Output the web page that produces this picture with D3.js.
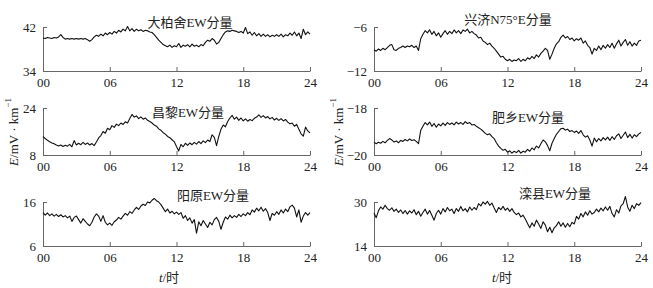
<!DOCTYPE html>
<html>
<head>
<meta charset="utf-8">
<script src="https://cdn.jsdelivr.net/npm/d3@7"></script>
<style>
  body { margin: 0; background: #fff; }
  text { font-family: "Liberation Serif", "Noto Sans CJK SC", serif; fill: #222; }
</style>
</head>
<body>
<svg id="chart" width="653" height="288"></svg>
<script>
// hourly x ticks shared by every panel
const hourTicks = [0, 6, 12, 18, 24];
const hourLabels = ['00', '06', '12', '18', '24'];

const dabaishe = [40.0, 39.9, 40.1, 40.0, 39.9, 40.1, 40.0, 40.2,
  40.6, 40.1, 39.8, 39.9, 39.8, 39.9, 39.8, 39.9, 39.8, 39.9, 39.8, 39.9, 39.7, 39.4, 39.7,
  40.2, 40.5, 40.3, 40.7, 40.4, 40.9, 40.6, 41.0, 40.7, 41.2, 40.9, 41.4, 41.1, 41.6, 41.3,
  42.1, 41.3, 41.7, 41.2, 41.6, 41.3, 41.5, 41.2, 41.4, 41.3, 41.1, 41.0, 40.6, 40.1, 39.6,
  39.2, 38.8, 38.6, 38.4, 38.7, 38.3, 38.6, 38.4, 39.0, 38.3, 38.7, 38.5, 38.8, 38.4, 38.9,
  38.5, 38.7, 38.4, 38.8, 38.6, 39.2, 39.6, 39.4, 39.9, 39.6, 38.9, 39.2, 39.9, 40.6, 41.1,
  41.3, 41.2, 41.4, 41.3, 41.2, 41.0, 41.2, 40.9, 41.9, 40.8, 41.1, 40.5, 41.0, 40.4, 40.8,
  40.3, 40.7, 40.3, 40.6, 40.2, 40.5, 40.3, 40.6, 40.3, 40.7, 40.2, 40.6, 40.4, 40.9, 40.5,
  41.1, 40.4, 40.9, 39.9, 41.6, 40.6, 41.1, 40.7];

const xingji = [-9.1, -9.3, -9.0, -9.2, -8.9, -9.1, -8.8, -8.5, -8.4, -9.1, -9.2, -8.9,
  -8.8, -8.6, -8.8, -8.6, -8.7, -8.5, -8.8, -8.6, -9.2, -7.6, -7.0, -6.5, -6.8, -6.4, -7.0,
  -6.6, -7.2, -6.8, -7.4, -6.9, -6.5, -7.0, -6.6, -6.9, -6.4, -6.8, -6.5, -6.9, -6.4, -6.6,
  -6.3, -6.8, -6.6, -6.9, -7.1, -7.5, -7.4, -7.9, -8.1, -8.4, -8.2, -8.6, -8.9, -9.3, -9.7,
  -10.1, -10.0, -10.4, -10.6, -10.4, -10.7, -10.5, -10.6, -10.3, -10.7, -10.4, -10.6, -10.2,
  -10.4, -10.0, -10.3, -9.8, -10.1, -9.6, -9.3, -8.9, -9.2, -10.4, -9.7, -8.9, -8.3, -8.0,
  -7.4, -7.1, -7.5, -7.3, -7.7, -7.5, -7.9, -7.6, -7.8, -7.5, -8.2, -7.9, -8.5, -8.8, -9.7,
  -8.9, -9.2, -8.6, -9.1, -8.5, -8.9, -8.4, -8.8, -8.2, -8.9, -8.3, -7.8, -8.6, -8.1, -7.7,
  -8.5, -8.0, -8.6, -8.2, -8.5, -7.9, -7.8];

const changli = [14.3, 13.6, 13.0, 12.5, 12.1, 11.8, 11.4, 11.1, 11.4, 10.9, 11.3, 11.0,
  11.6, 10.8, 12.9, 11.4, 12.0, 11.5, 12.3, 11.6, 12.1, 11.4, 11.9, 11.2, 12.4, 13.8, 14.6,
  16.0, 15.4, 17.1, 16.6, 18.0, 17.4, 18.5, 18.0, 18.9, 18.4, 19.3, 18.9, 20.4, 21.8, 20.9,
  21.3, 20.4, 21.0, 20.2, 20.6, 19.8, 19.4, 18.9, 18.2, 17.8, 16.9, 16.4, 15.6, 15.1, 14.3,
  13.9, 13.2, 12.5, 10.9, 9.4, 11.6, 10.8, 12.0, 11.3, 12.1, 11.5, 12.3, 11.7, 12.6, 11.9,
  12.8, 12.2, 13.1, 12.6, 14.9, 14.0, 11.2, 14.3, 16.8, 18.2, 17.6, 19.4, 20.6, 21.5, 20.2,
  20.9, 19.8, 20.6, 19.6, 20.3, 19.5, 20.1, 19.7, 20.5, 20.9, 21.7, 20.8, 21.4, 20.6, 21.1,
  20.3, 20.8, 19.9, 20.5, 19.8, 20.4, 19.6, 20.1, 19.2, 18.6, 18.9, 17.8, 18.4, 16.8, 15.2,
  14.4, 17.5, 16.2, 15.5];

const feixiang = [-19.45, -19.52, -19.46, -19.50, -19.42, -19.48, -19.38, -19.30, -19.36,
  -19.45, -19.40, -19.48, -19.38, -19.42, -19.34, -19.40, -19.32, -19.38, -19.35, -19.42,
  -19.52, -18.95, -18.78, -18.62, -18.72, -18.60, -18.78, -18.66, -18.82, -18.68, -18.76,
  -18.64, -18.74, -18.62, -18.70, -18.64, -18.72, -18.60, -18.68, -18.62, -18.70, -18.58,
  -18.66, -18.62, -18.72, -18.70, -18.78, -18.84, -18.90, -18.98, -19.08, -19.14, -19.10,
  -19.22, -19.30, -19.48, -19.62, -19.72, -19.80, -19.76, -19.88, -19.82, -19.92, -19.84,
  -19.90, -19.80, -19.92, -19.84, -19.88, -19.76, -19.84, -19.70, -19.78, -19.62, -19.70,
  -19.52, -19.36, -19.44, -19.60, -19.82, -19.50, -19.30, -19.12, -19.00, -18.88, -18.86,
  -18.94, -18.90, -19.00, -18.96, -19.04, -18.98, -19.08, -18.96, -19.14, -19.24, -19.18,
  -19.36, -19.62, -19.28, -19.44, -19.30, -19.40, -19.26, -19.36, -19.24, -19.38, -19.22,
  -19.34, -19.18, -19.10, -19.30, -19.16, -19.02, -19.26, -19.12, -19.28, -19.14, -19.22,
  -19.10, -19.04];

const yangyuan = [13.6, 13.0, 13.5, 12.9, 13.3, 12.8, 13.2, 12.7, 13.1, 12.6, 12.9, 12.4,
  12.8, 11.6, 12.5, 12.8, 12.0, 11.2, 12.2, 11.6, 11.0, 10.6, 11.4, 12.6, 13.3, 12.8, 11.6,
  12.9, 11.4, 10.8, 11.2, 10.7, 11.5, 11.9, 12.5, 12.1, 12.8, 13.4, 13.0, 13.8, 13.4, 14.2,
  14.8, 14.3, 15.1, 15.5, 15.2, 16.0, 15.8, 16.4, 16.8, 16.3, 16.0, 15.4, 14.6, 13.8, 14.4,
  13.5, 13.9, 13.3, 13.7, 13.2, 13.6, 12.3, 12.9, 11.8, 12.4, 11.2, 12.0, 8.9, 11.5, 10.6,
  11.8, 11.0, 10.2, 11.4, 10.8, 12.0, 12.5, 11.6, 9.8, 11.4, 12.6, 12.1, 13.0, 12.4, 12.9,
  12.5, 13.2, 12.7, 13.3, 12.9, 13.6, 13.1, 14.2, 13.7, 14.6, 14.0, 14.8, 13.9, 14.5, 13.6,
  11.8, 13.4, 13.0, 13.8, 13.2, 14.2, 13.5, 14.4, 13.8, 14.9, 15.3, 14.6, 12.6, 14.2, 11.4,
  12.8, 13.6, 13.0, 13.6];

const luanxian = [26.0, 24.3, 26.8, 28.2, 27.4, 28.8, 27.6, 27.0, 27.9, 26.6, 27.4, 26.2,
  27.1, 25.8, 26.9, 25.6, 26.8, 26.0, 27.2, 25.4, 26.6, 24.8, 26.2, 27.4, 25.6, 26.9, 25.2,
  23.4, 25.8, 27.0, 25.6, 27.6, 26.4, 28.0, 26.8, 27.4, 25.8, 27.6, 26.6, 28.4, 26.8, 27.6,
  26.4, 28.2, 27.0, 28.0, 27.2, 29.4, 28.6, 30.0, 29.2, 30.2, 28.8, 29.6, 27.8, 26.2, 28.0,
  27.2, 28.4, 27.0, 27.8, 26.6, 27.6, 26.2, 25.4, 26.0, 24.6, 25.2, 23.8, 22.2, 20.6, 22.4,
  21.2, 23.4, 22.0, 20.4, 22.8, 21.6, 19.2, 20.8, 18.8, 20.6, 21.4, 22.8, 21.2, 22.4, 20.8,
  22.2, 21.0, 22.6, 22.0, 24.8, 23.8, 25.8, 24.6, 26.4, 25.2, 26.8, 25.6, 26.2, 27.4, 26.4,
  27.8, 26.8, 28.2, 27.0, 28.4, 25.8, 24.6, 27.2, 26.0, 28.6, 29.4, 32.0, 28.2, 26.6, 28.8,
  27.6, 29.4, 28.8, 29.8];

const panels = [
  {name: '大柏舍EW分量', values: dabaishe, range: [34, 42], col: 0, row: 0, tx: 190, ty: 22},
  {name: '兴济N75°E分量', values: xingji, range: [-12, -6], col: 1, row: 0, tx: 508, ty: 19},
  {name: '昌黎EW分量', values: changli, range: [8, 24], col: 0, row: 1, tx: 188, ty: 112},
  {name: '肥乡EW分量', values: feixiang, range: [-20, -18], col: 1, row: 1, tx: 528, ty: 117},
  {name: '阳原EW分量', values: yangyuan, range: [6, 16], col: 0, row: 2, tx: 213, ty: 195},
  {name: '滦县EW分量', values: luanxian, range: [14, 30], col: 1, row: 2, tx: 555, ty: 193}
];

const colX = [43, 374];
const plotW = 267;
const rowTop = [27, 108, 202];
const rowBottom = [71, 155, 246];

const svg = d3.select('#chart');

panels.forEach(p => {
  const x0 = colX[p.col];
  const top = rowTop[p.row], bottom = rowBottom[p.row];

  const xScale = d3.scaleLinear().domain([0, 24]).range([x0, x0 + plotW]);
  const yScale = d3.scaleLinear().domain(p.range).range([bottom, top]);

  const g = svg.append('g');

  // x axis, ticks pointing up into the plot
  const xAxis = d3.axisBottom(xScale)
      .tickValues(hourTicks)
      .tickFormat((d, i) => hourLabels[i])
      .tickSizeInner(-4)
      .tickSizeOuter(0)
      .tickPadding(7);
  const xg = g.append('g')
      .attr('transform', `translate(0,${bottom})`)
      .call(xAxis);

  const yAxis = d3.axisLeft(yScale)
      .tickValues(p.range)
      .tickFormat(d => d < 0 ? '\u2212' + Math.abs(d) : d)
      .tickSizeInner(-4)
      .tickSizeOuter(0)
      .tickPadding(7);
  const yg = g.append('g')
      .attr('transform', `translate(${x0},0)`)
      .call(yAxis);

  [xg, yg].forEach(a => {
    a.selectAll('path, line').attr('stroke', '#666').attr('stroke-width', 1);
    a.selectAll('text')
      .style('font-family', '"Liberation Serif", serif')
      .style('font-size', '13px')
      .attr('fill', '#222');
  });

  const line = d3.line()
      .x((d, i) => xScale(i * 24 / (p.values.length - 1)))
      .y(d => yScale(d));

  g.append('path')
      .datum(p.values)
      .attr('d', line)
      .attr('fill', 'none')
      .attr('stroke', '#111')
      .attr('stroke-width', 1.1)
      .attr('stroke-linejoin', 'round');

  g.append('text')
      .attr('x', p.tx)
      .attr('y', p.ty)
      .attr('text-anchor', 'middle')
      .attr('dominant-baseline', 'central')
      .style('font-size', '13px')
      .text(p.name);
});

// y axis titles
[13, 338].forEach(xp => {
  const t = svg.append('text')
      .attr('transform', `translate(${xp},132) rotate(-90)`)
      .attr('text-anchor', 'middle')
      .attr('dominant-baseline', 'central')
      .style('font-size', '13px');
  t.append('tspan').style('font-style', 'italic').text('E');
  t.append('tspan').text('/mV · km');
  t.append('tspan').attr('dy', -5).style('font-size', '9px').text('−1');
});

// x axis titles
[169, 502].forEach(xp => {
  const t = svg.append('text')
      .attr('x', xp)
      .attr('y', 277)
      .attr('text-anchor', 'middle')
      .attr('dominant-baseline', 'central')
      .style('font-size', '13px');
  t.append('tspan').style('font-style', 'italic').text('t');
  t.append('tspan').text('/时');
});
</script>
</body>
</html>
